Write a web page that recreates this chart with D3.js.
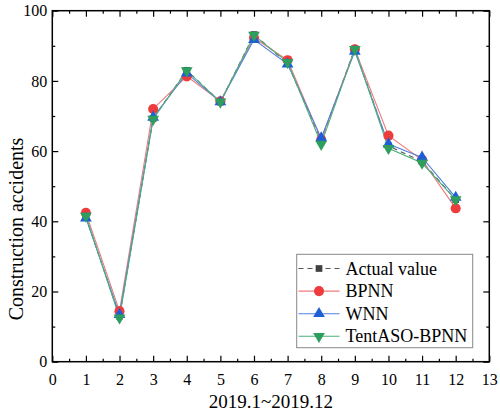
<!DOCTYPE html>
<html><head><meta charset="utf-8">
<script src="https://cdn.jsdelivr.net/npm/d3@7"></script>
<style>body{margin:0;background:#fff}svg{display:block}</style>
</head><body>
<script>
const months = [1,2,3,4,5,6,7,8,9,10,11,12];
const actual = [41.2,13.0,69.3,83.0,74.0,93.2,85.0,63.0,89.2,61.5,57.0,46.2];
const bpnn   = [42.4,14.4,72.0,81.3,74.2,92.3,85.9,63.3,89.0,64.4,57.5,43.7];
const wnn    = [40.9,13.4,69.6,82.2,74.0,91.8,84.8,63.7,88.4,62.0,58.2,46.8];
const tent   = [41.5,12.5,69.1,82.9,74.0,93.0,85.3,62.0,89.0,60.8,56.6,46.2];
const seriesNames = ["Actual value","BPNN","WNN","TentASO-BPNN"];
const xTicks = d3.range(0,14);
const yTicks = [0,20,40,60,80,100];

const W=500,H=412;
const x0=52.3,x1=489.3,y0=361.7,y1=10.7;
const x=d3.scaleLinear().domain([0,13]).range([x0,x1]);
const y=d3.scaleLinear().domain([0,100]).range([y0,y1]);
const font="'Liberation Serif','Times New Roman',serif";

const svg=d3.select("body").append("svg").attr("width",W).attr("height",H)
  .style("font-family",font);

const series=[
 {name:seriesNames[0],vals:actual,color:"#404040",line:"#555",dash:"5,4",shape:d3.symbolSquare,size:45},
 {name:seriesNames[1],vals:bpnn,color:"#ee3b3b",line:"#f07a7a",dash:null,shape:d3.symbolCircle,size:80},
 {name:seriesNames[2],vals:wnn,color:"#1f5fd6",line:"#4f80e0",dash:null,shape:d3.symbolTriangle,size:60},
 {name:seriesNames[3],vals:tent,color:"#2e9e5e",line:"#4cb07a",dash:null,shape:d3.symbolTriangle,size:60,flip:true}
];

const line=d3.line().x((d,i)=>x(months[i])).y(d=>y(d));
series.forEach(s=>{
  svg.append("path").datum(s.vals).attr("d",line).attr("fill","none")
    .attr("stroke",s.line).attr("stroke-width",1.1)
    .attr("stroke-dasharray",s.dash);
});
series.forEach(s=>{
  svg.append("g").selectAll("path").data(s.vals).join("path")
    .attr("d",d3.symbol().type(s.shape).size(s.size))
    .attr("transform",(d,i)=>`translate(${x(months[i])},${y(d)})${s.flip?" rotate(180)":""}`)
    .attr("fill",s.color);
});

// axes
const axStyle=g=>{g.attr("font-family",null);g.selectAll(".domain").remove();g.selectAll(".tick line").attr("stroke","#000").attr("stroke-width",1.2);
  g.selectAll("text").style("font-family",font).style("font-size","16px").attr("fill","#000");};
const minorX=d3.range(0.5,13,1), minorY=d3.range(10,100,20);
// bottom
svg.append("g").attr("transform",`translate(0,${y0})`)
  .call(d3.axisBottom(x).tickValues(xTicks).tickSize(-6).tickPadding(12).tickFormat(d3.format("d"))).call(axStyle);
svg.append("g").attr("transform",`translate(0,${y0})`)
  .call(d3.axisBottom(x).tickValues(minorX).tickSize(-3).tickFormat("")).call(axStyle);
// top
svg.append("g").attr("transform",`translate(0,${y1})`)
  .call(d3.axisTop(x).tickValues(xTicks).tickSize(-6).tickFormat("")).call(axStyle);
svg.append("g").attr("transform",`translate(0,${y1})`)
  .call(d3.axisTop(x).tickValues(minorX).tickSize(-3).tickFormat("")).call(axStyle);
// left
svg.append("g").attr("transform",`translate(${x0},0)`)
  .call(d3.axisLeft(y).tickValues(yTicks).tickSize(-6).tickPadding(5)).call(axStyle);
svg.append("g").attr("transform",`translate(${x0},0)`)
  .call(d3.axisLeft(y).tickValues(minorY).tickSize(-3).tickFormat("")).call(axStyle);
// right
svg.append("g").attr("transform",`translate(${x1},0)`)
  .call(d3.axisRight(y).tickValues(yTicks).tickSize(-6).tickFormat("")).call(axStyle);
svg.append("g").attr("transform",`translate(${x1},0)`)
  .call(d3.axisRight(y).tickValues(minorY).tickSize(-3).tickFormat("")).call(axStyle);

svg.append("rect").attr("x",x0).attr("y",y1).attr("width",x1-x0).attr("height",y0-y1)
  .attr("fill","none").attr("stroke","#000").attr("stroke-width",1.5);

// titles
svg.append("text").attr("x",(x0+x1)/2).attr("y",408).attr("text-anchor","middle")
  .style("font-size","19px").text("2019.1~2019.12");
svg.append("text").attr("transform","translate(23,229) rotate(-90)").attr("text-anchor","middle")
  .style("font-size","20px").text("Construction accidents");

// legend
const lg=svg.append("g");
lg.append("rect").attr("x",296.7).attr("y",254.3).attr("width",176).attr("height",93.4)
  .attr("fill","#fff").attr("stroke","#888").attr("stroke-width",1);
series.forEach((s,i)=>{
  const cy=268.5+i*22.6;
  lg.append("line").attr("x1",298.5).attr("x2",339.5).attr("y1",cy).attr("y2",cy)
    .attr("stroke",s.line).attr("stroke-width",1.1).attr("stroke-dasharray",s.dash);
  lg.append("path").attr("d",d3.symbol().type(s.shape).size(s.size))
    .attr("transform",`translate(319,${cy})${s.flip?" rotate(180)":""}`).attr("fill",s.color);
  lg.append("text").attr("x",345.5).attr("y",cy+6).style("font-size","18px").text(s.name);
});
</script>
</body></html>
